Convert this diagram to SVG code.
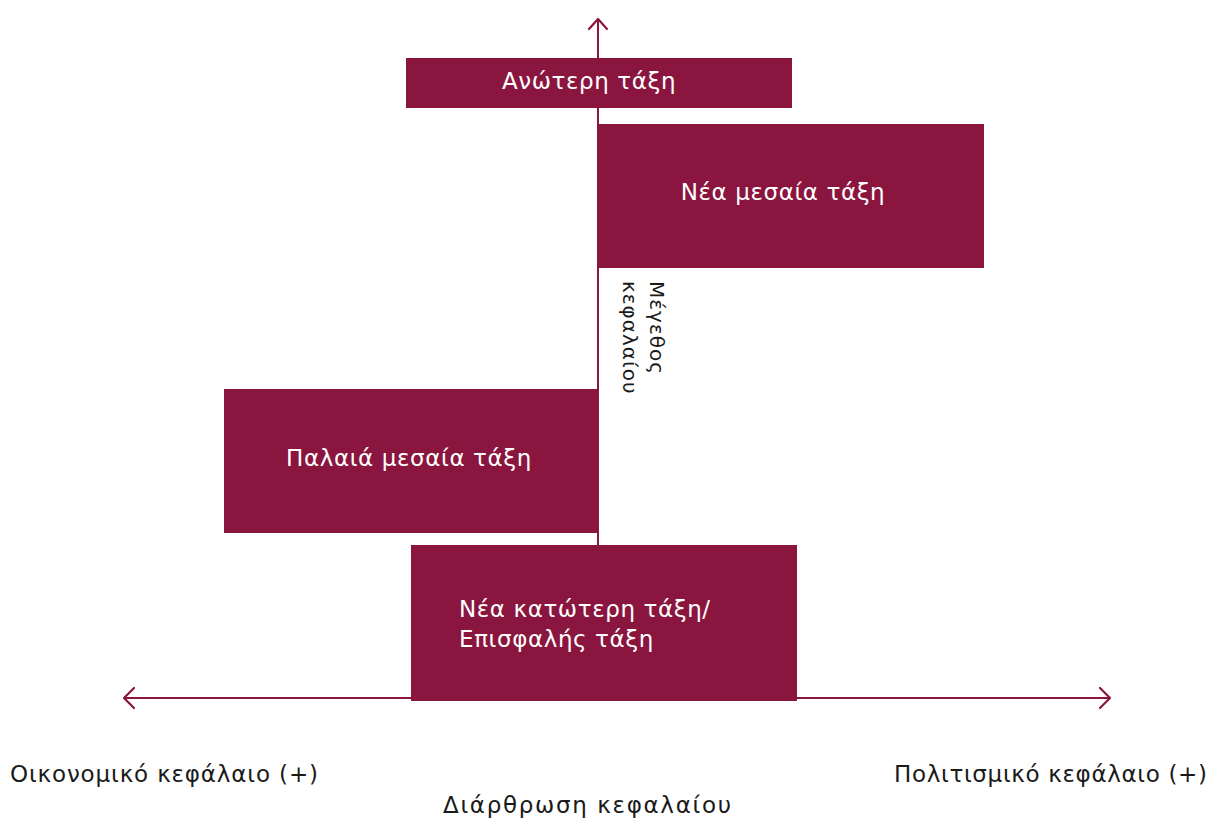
<svg xmlns="http://www.w3.org/2000/svg" width="1209" height="820" viewBox="0 0 1209 820">
<style>
.box{fill:#8A163F}
.lbl{font-family:"DejaVu Sans","Noto Sans",sans-serif;font-size:23px;letter-spacing:0.6px;fill:#ffffff}
.ax{font-family:"DejaVu Sans","Noto Sans",sans-serif;font-size:23px;fill:#1a1a1a}
.vt{font-family:"DejaVu Sans","Noto Sans",sans-serif;font-size:20px;letter-spacing:1px;fill:#1a1a1a}
.axis{stroke:#8A163F;stroke-width:2;fill:none}
.head{stroke:#8A163F;stroke-width:2.2;fill:none;stroke-linecap:round;stroke-linejoin:round}
</style>
<rect width="1209" height="820" fill="#ffffff"/>
<g id="connectors">
<line class="axis" x1="598" y1="545" x2="598" y2="20"/>
<polyline class="head" points="589,29 598,19 607,29"/>
<line class="axis" x1="125" y1="698" x2="1109" y2="698"/>
<polyline class="head" points="134,688 124,698 134,708"/>
<polyline class="head" points="1100,688 1110,698 1100,708"/>
</g>
<g id="upper">
<rect class="box" x="406" y="58" width="386" height="50"/>
<text class="lbl" x="589" y="89" text-anchor="middle">Ανώτερη τάξη</text>
</g>
<g id="new-middle">
<rect class="box" x="598" y="124" width="386" height="144"/>
<text class="lbl" x="783" y="200" text-anchor="middle">Νέα μεσαία τάξη</text>
</g>
<g id="old-middle">
<rect class="box" x="224" y="389" width="374" height="144"/>
<text class="lbl" x="409" y="466" text-anchor="middle">Παλαιά μεσαία τάξη</text>
</g>
<g id="new-lower">
<rect class="box" x="411" y="545" width="386" height="156"/>
<text class="lbl" x="459" y="617">Νέα κατώτερη τάξη/</text>
<text class="lbl" x="459" y="647">Επισφαλής τάξη</text>
</g>
<g id="capital-size">
<text class="vt" transform="translate(650,281) rotate(90)">Μέγεθος</text>
<text class="vt" transform="translate(623,281) rotate(90)">κεφαλαίου</text>
</g>
<g id="axis-labels">
<text class="ax" x="10" y="782" textLength="308" lengthAdjust="spacing">Οικονομικό κεφάλαιο (+)</text>
<text class="ax" x="894" y="782" textLength="313" lengthAdjust="spacing">Πολιτισμικό κεφάλαιο (+)</text>
<text class="ax" x="443" y="813" textLength="288" lengthAdjust="spacing">Διάρθρωση κεφαλαίου</text>
</g>
</svg>
